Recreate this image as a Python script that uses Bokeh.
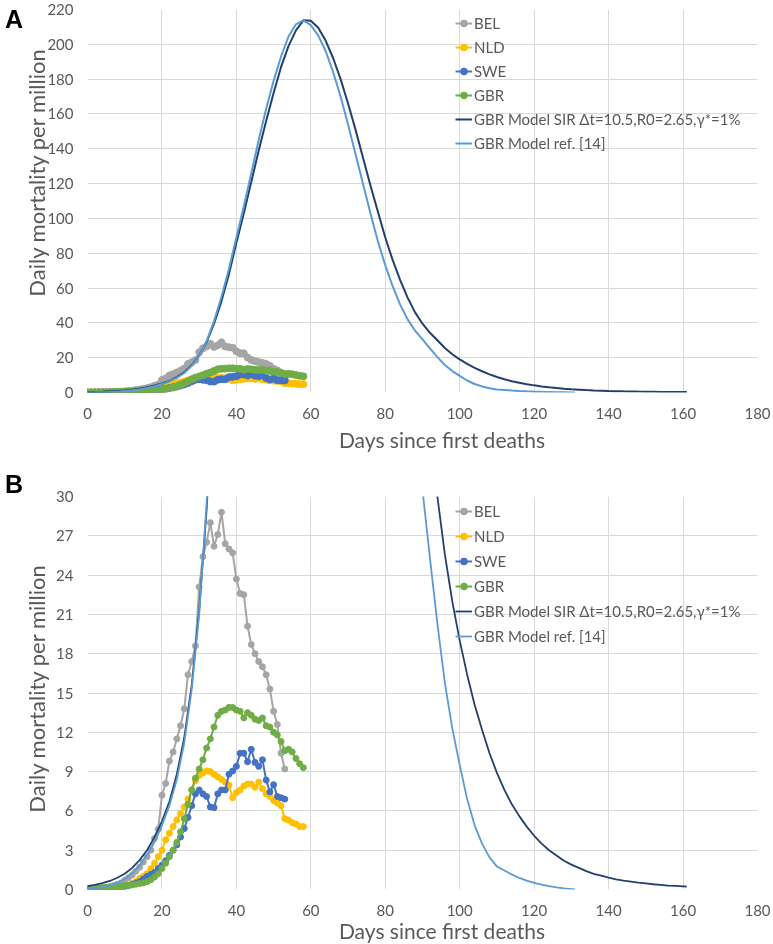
from bokeh.plotting import figure
from bokeh.models import Range1d, Legend, LegendItem, FixedTicker, Div
from bokeh.layouts import column
from bokeh.embed import file_html
from bokeh.resources import INLINE

# ---------------- data ----------------
bel_days = list(range(0, 54))
bel = [0.0, 0.05, 0.05, 0.1, 0.1, 0.15, 0.2, 0.3, 0.4, 0.5,
       0.7, 0.9, 1.1, 1.4, 1.7, 2.1, 2.5, 3.0, 3.9, 4.6,
       7.2, 8.1, 9.8, 10.5, 11.5, 12.5, 13.8, 16.4, 17.4, 18.6,
       23.1, 25.4, 26.5, 28.0, 26.2, 27.1, 28.8, 26.4, 26.0, 25.7,
       23.7, 22.6, 22.5, 20.1, 18.7, 18.0, 17.4, 17.0, 16.4, 15.3,
       13.6, 12.6, 10.4, 9.2]

nld_days = list(range(0, 59))
nld = [0.0, 0.0, 0.02, 0.05, 0.05, 0.08, 0.1, 0.12, 0.15, 0.2,
       0.25, 0.33, 0.45, 0.6, 0.85, 1.0, 1.2, 1.6, 2.0, 2.5,
       3.0, 3.8, 4.3, 4.8, 5.3, 5.8, 6.3, 6.9, 7.6, 8.3,
       8.7, 8.9, 9.05, 9.0, 8.8, 8.6, 8.4, 8.2, 7.95, 7.0,
       7.4, 7.6, 7.9, 8.05, 8.05, 7.8, 8.2, 7.7, 7.3, 7.1,
       6.8, 6.6, 6.4, 5.4, 5.3, 5.1, 5.0, 4.8, 4.8]

swe_days = list(range(0, 54))
swe = [0.0, 0.0, 0.02, 0.03, 0.05, 0.07, 0.1, 0.12, 0.15, 0.18,
       0.22, 0.3, 0.4, 0.5, 0.6, 0.8, 1.0, 1.15, 1.3, 1.6,
       1.85, 2.2, 2.6, 3.0, 3.4, 4.0, 4.65, 5.5, 6.4, 7.3,
       7.6, 7.3, 7.1, 6.3, 6.25, 7.3, 7.6, 7.6, 8.8, 9.05,
       9.4, 10.4, 10.4, 9.75, 10.7, 9.7, 9.4, 9.9, 8.35, 7.45,
       8.0, 7.1, 7.0, 6.9]

gbr_days = list(range(0, 59))
gbr = [0.1, 0.1, 0.1, 0.12, 0.15, 0.15, 0.2, 0.2, 0.22, 0.25,
       0.3, 0.3, 0.35, 0.4, 0.45, 0.5, 0.6, 0.75, 0.95, 1.2,
       1.6, 2.0, 2.5, 3.0, 3.6, 4.4, 5.4, 6.5, 7.6, 8.5,
       9.2, 9.9, 10.8, 11.5, 12.4, 13.3, 13.6, 13.7, 13.9, 13.9,
       13.7, 13.6, 13.1, 13.5, 13.3, 13.0, 12.9, 13.1, 12.5, 12.4,
       12.0, 11.8, 11.3, 10.6, 10.7, 10.5, 10.0, 9.6, 9.3]

sir_days = list(range(0, 161, 2)) + [161]
sir = [0.25, 0.35, 0.48, 0.65, 0.9, 1.2, 1.65, 2.25, 3.0, 4.0,
       5.2, 6.7, 8.8, 11.6, 15.6, 21.3, 29.0, 39.5, 52.5, 68.0,
       86.0, 103.0, 121.0, 139.0, 156.0, 172.0, 187.0, 199.0, 208.0, 213.8,
       213.5, 209.5, 202.0, 192.0, 180.0, 166.0, 151.0, 135.0, 119.0, 104.0,
       89.0, 76.0, 64.5, 54.5, 46.0, 39.5, 34.3, 30.0, 25.6, 22.0,
       19.0, 16.4, 14.1, 12.2, 10.4, 8.9, 7.6, 6.5, 5.6, 4.8,
       4.1, 3.5, 3.0, 2.6, 2.2, 1.9, 1.65, 1.4, 1.2, 1.05,
       0.9, 0.78, 0.68, 0.6, 0.52, 0.46, 0.4, 0.35, 0.3, 0.27,
       0.24, 0.22]

ref_days = list(range(0, 131, 2)) + [131]
ref = [0.05, 0.1, 0.18, 0.3, 0.5, 0.8, 1.25, 1.85, 2.65, 3.6,
       4.9, 6.4, 8.4, 11.2, 15.3, 21.0, 29.5, 41.0, 55.0, 71.0,
       89.0, 107.0, 126.0, 145.0, 163.0, 179.0, 193.0, 204.5, 211.5, 213.8,
       211.0, 205.0, 196.0, 184.0, 170.0, 154.0, 137.0, 120.0, 103.0, 87.0,
       73.0, 61.0, 50.5, 42.0, 35.5, 30.5, 25.3, 20.3, 15.8, 12.3,
       9.5, 6.9, 4.9, 3.5, 2.45, 1.75, 1.45, 1.15, 0.88, 0.68,
       0.5, 0.37, 0.26, 0.16, 0.09, 0.03, 0.0]

x_ticks = [0, 20, 40, 60, 80, 100, 120, 140, 160, 180]
ya_ticks = [0, 20, 40, 60, 80, 100, 120, 140, 160, 180, 200, 220]
yb_ticks = [0, 3, 6, 9, 12, 15, 18, 21, 24, 27, 30]

x_title = "Days since first deaths"
y_title = "Daily mortality per million"

countries = [("BEL", bel_days, bel, "#A5A5A5"),
             ("NLD", nld_days, nld, "#FFC000"),
             ("SWE", swe_days, swe, "#4472C4"),
             ("GBR", gbr_days, gbr, "#70AD47")]
models = [("GBR Model SIR \u0394t=10.5,R0=2.65,\u03b3*=1%", sir_days, sir, "#22406E"),
          ("GBR Model ref. [14]", ref_days, ref, "#5B9BD5")]

FONT = "Lato"
TXT = "#595959"
GRID = "#D9D9D9"


def make_panel(ymax, yticks, frame_h, top, bottom, msize, mwidth, leg_y, leg_spacing):
    p = figure(width=773, height=top + frame_h + bottom,
               x_range=Range1d(0, 180), y_range=Range1d(0, ymax),
               output_backend="svg", toolbar_location=None,
               min_border_left=87, min_border_right=16,
               min_border_top=top, min_border_bottom=bottom)
    p.outline_line_color = None
    p.background_fill_color = "white"
    p.border_fill_color = "white"
    p.xaxis.ticker = FixedTicker(ticks=x_ticks)
    p.yaxis.ticker = FixedTicker(ticks=yticks)
    for ax in (p.xaxis[0], p.yaxis[0]):
        ax.axis_line_color = None
        ax.major_tick_line_color = None
        ax.minor_tick_line_color = None
        ax.major_tick_in = 0
        ax.major_tick_out = 0
        ax.minor_tick_out = 0
        ax.major_label_text_font = FONT
        ax.major_label_text_font_size = "15px"
        ax.major_label_text_color = TXT
    p.xaxis.major_label_standoff = 15
    p.yaxis.major_label_standoff = 14
    p.xgrid.ticker = FixedTicker(ticks=x_ticks)
    p.ygrid.ticker = FixedTicker(ticks=yticks)
    p.grid.grid_line_color = GRID
    p.grid.grid_line_width = 1

    items = []
    for name, d, v, c in countries:
        ln = p.line(d, v, line_color=c, line_width=2)
        sc = p.scatter(d, v, size=msize, fill_color=c, line_color=c)
        items.append(LegendItem(label=name, renderers=[ln, sc]))
    for name, d, v, c in models:
        ln = p.line(d, v, line_color=c, line_width=mwidth)
        items.append(LegendItem(label=name, renderers=[ln]))

    legend = Legend(items=items, location=(368, leg_y),
                    padding=0, margin=0, spacing=leg_spacing,
                    glyph_width=17, glyph_height=20, label_height=20,
                    label_standoff=2,
                    label_text_font=FONT, label_text_font_size="15px",
                    label_text_color=TXT,
                    background_fill_alpha=0, border_line_alpha=0)
    p.add_layout(legend)
    return p


def panel_letter(letter, left, top):
    return Div(text=letter, width=24, height=26,
               styles={"position": "fixed", "left": f"{left}px", "top": f"{top}px",
                       "z-index": "10", "font-family": "Liberation Sans",
                       "font-weight": "bold", "font-size": "25px",
                       "line-height": "1", "color": "black"})


def x_title_div(cx, cy):
    return Div(text=x_title, width=400, height=22,
               styles={"position": "fixed", "left": f"{cx - 200}px", "top": f"{cy - 11}px",
                       "z-index": "5", "font-family": FONT, "font-size": "21px",
                       "line-height": "1", "color": TXT, "text-align": "center",
                       "white-space": "nowrap"})


def y_title_div(cx, cy):
    return Div(text=y_title, width=340, height=24,
               styles={"position": "fixed", "left": f"{cx - 170}px", "top": f"{cy - 12}px",
                       "z-index": "5", "font-family": FONT, "font-size": "22px",
                       "line-height": "1", "color": TXT, "text-align": "center",
                       "white-space": "nowrap", "transform": "rotate(-90deg)",
                       "transform-origin": "50% 50%"})


# panel A: frame 9..392 ; panel B: frame 496..889 (page pixels)
pa = make_panel(220, ya_ticks, 383, 9, 78, 7, 2, 383 - 4 - 140, 4)
pb = make_panel(30, yb_ticks, 393, 26, 55, 6, 1.8, 393 - 5 - 145, 5)

layout = column(panel_letter("A", 0, 2), panel_letter("B", 0, 467),
                y_title_div(33, 168), y_title_div(33, 684),
                x_title_div(437, 435), x_title_div(437, 926),
                pa, pb, spacing=0,
                styles={"position": "fixed", "left": "0px", "top": "0px"})
open("out.html", "w").write(file_html(layout, INLINE))
